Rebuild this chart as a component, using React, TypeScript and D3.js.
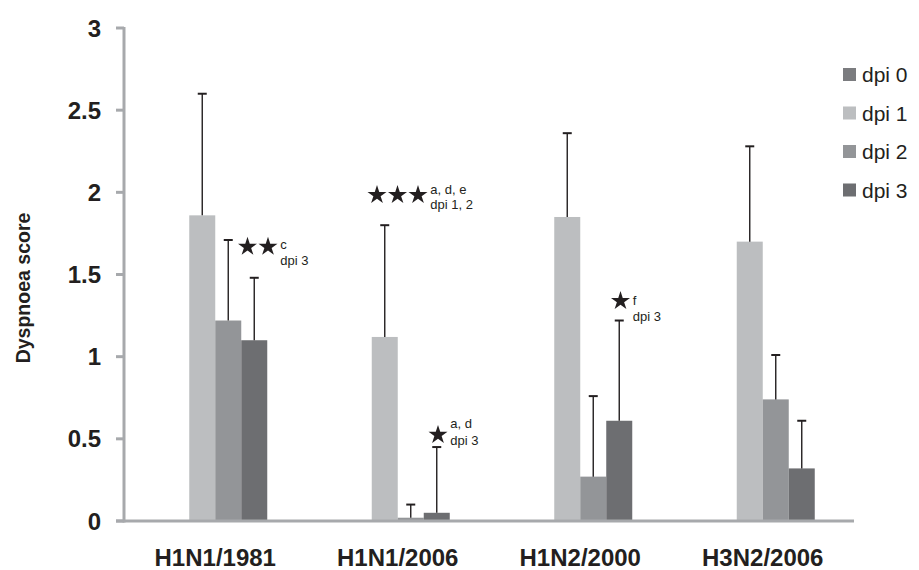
import React from "react";
import * as d3 from "d3";

const categories = ["H1N1/1981", "H1N1/2006", "H1N2/2000", "H3N2/2006"];
const seriesNames = ["dpi 0", "dpi 1", "dpi 2", "dpi 3"];
const dpi0 = [0, 0, 0, 0];
const dpi1 = [1.86, 1.12, 1.85, 1.7];
const dpi2 = [1.22, 0.02, 0.27, 0.74];
const dpi3 = [1.1, 0.05, 0.61, 0.32];
const dpi0Err = [0, 0, 0, 0];
const dpi1Err = [2.6, 1.8, 2.36, 2.28];
const dpi2Err = [1.71, 0.1, 0.76, 1.01];
const dpi3Err = [1.48, 0.45, 1.22, 0.61];
const yTicks = [0, 0.5, 1, 1.5, 2, 2.5, 3];
const yTickLabels = ["0", "0.5", "1", "1.5", "2", "2.5", "3"];

// significance annotations: category, number of stars, superscript line, sub line, level (y value)
const annCategory = [0, 1, 1, 2];
const annStars = [2, 3, 1, 1];
const annLine1 = ["c", "a, d, e", "a, d", "f"];
const annLine2 = ["dpi 3", "dpi 1, 2", "dpi 3", "dpi 3"];
const annLevel = [1.675, 1.99, 0.53, 1.345];

const colors = ["#7b7c7f", "#bcbec0", "#939598", "#6d6e71"];

const W = 919;
const H = 570;

export default function App() {
  const values = [dpi0, dpi1, dpi2, dpi3];
  const errs = [dpi0Err, dpi1Err, dpi2Err, dpi3Err];
  const y = d3.scaleLinear().domain([0, 3]).range([521, 28]);
  const x = d3.scaleBand<string>().domain(categories).range([124, 854]).padding(0);
  const inner = d3.scaleBand<string>().domain(seriesNames).range([-52, 52]).padding(0);
  const bw = inner.bandwidth();
  const starSize = 112;
  const starPath = d3.symbol().type(d3.symbolStar).size(starSize)() as string;
  const starW = 20.5;

  // annotation anchor offsets (px) relative to category centre
  const annDx = [22, -31, 30, 30];
  const annL1 = [3, 0, -6, 5];
  const annL2 = [19, 15, 11, 21];

  const axisColor = "#a7a9ac";
  const ink = "#231f20";

  return (
    <svg width={W} height={H} style={{ display: "block", position: "absolute", left: 0, top: 0 }}
      fontFamily="'Liberation Sans', Arial, Helvetica, sans-serif">
      <rect x={0} y={0} width={W} height={H} fill="#fff" />
      {/* bars */}
      {seriesNames.map((s, si) =>
        categories.map((c, ci) => {
          const v = values[si][ci];
          const x0 = (x(c) as number) + x.bandwidth() / 2 + (inner(s) as number);
          return (
            <rect key={s + c} x={x0} y={y(v)} width={bw} height={y(0) - y(v)} fill={colors[si]} />
          );
        })
      )}
      {/* error bars */}
      {seriesNames.map((s, si) =>
        categories.map((c, ci) => {
          const v = values[si][ci];
          const e = errs[si][ci];
          if (e <= v) return null;
          const cx = (x(c) as number) + x.bandwidth() / 2 + (inner(s) as number) + bw / 2;
          return (
            <g key={"e" + s + c} stroke={ink}>
              <line x1={cx} x2={cx} y1={y(v)} y2={y(e)} strokeWidth={1.4} />
              <line x1={cx - 4.5} x2={cx + 4.5} y1={y(e)} y2={y(e)} strokeWidth={2} />
            </g>
          );
        })
      )}
      {/* axes */}
      <line x1={124} x2={124} y1={y(3) - 1} y2={y(0) + 1.5} stroke={axisColor} strokeWidth={3} />
      <line x1={116} x2={854} y1={y(0)} y2={y(0)} stroke={axisColor} strokeWidth={3} />
      {yTicks.map((t, i) => (
        <g key={"t" + i}>
          <line x1={116} x2={124} y1={y(t)} y2={y(t)} stroke={axisColor} strokeWidth={3} />
          <text x={101} y={y(t)} dy="0.36em" textAnchor="end" fontSize={24} fontWeight="bold" fill={ink}>
            {yTickLabels[i]}
          </text>
        </g>
      ))}
      {categories.map((c) => (
        <text key={"xl" + c} x={(x(c) as number) + x.bandwidth() / 2} y={566} textAnchor="middle"
          fontSize={24} fontWeight="bold" fill={ink}>
          {c}
        </text>
      ))}
      <text transform={`translate(30,288) rotate(-90)`} textAnchor="middle" fontSize={19.5}
        fontWeight="bold" fill={ink}>
        Dyspnoea score
      </text>
      {/* annotations */}
      {annCategory.map((ci, ai) => {
        const cx = (x(categories[ci]) as number) + x.bandwidth() / 2 + annDx[ai];
        const cy = y(annLevel[ai]);
        const n = annStars[ai];
        const textX = cx + n * starW + 2;
        return (
          <g key={"a" + ai}>
            {d3.range(n).map((k) => (
              <path key={k} d={starPath} fill={ink}
                transform={`translate(${cx + starW / 2 + k * starW},${cy + 1})`} />
            ))}
            <text x={textX} y={cy + annL1[ai]} fontSize={13} fill={ink}>{annLine1[ai]}</text>
            <text x={textX} y={cy + annL2[ai]} fontSize={13} fill={ink}>{annLine2[ai]}</text>
          </g>
        );
      })}
      {/* legend */}
      {seriesNames.map((s, i) => {
        const ly = 74.5 + i * 38.5;
        return (
          <g key={"lg" + s}>
            <rect x={843} y={ly - 6.5} width={13} height={13} fill={colors[i]} />
            <text x={862} y={ly} dy="0.36em" fontSize={21} fill={ink}>{s}</text>
          </g>
        );
      })}
    </svg>
  );
}
